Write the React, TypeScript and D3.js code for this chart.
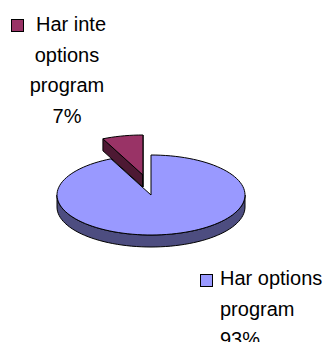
import React from "react";
import * as d3 from "d3";

const categories = ["Har options program", "Har inte options program"];
const values = [93, 7];
const labelLines = [
  ["Har options", "program", "93%"],
  ["Har inte", "options", "program", "7%"],
];
const topColors = ["#9999FF", "#993366"];
const sideColors = ["#4D4D80", "#4D1933"];
const explode = [0, 1];

const W = 331;
const H = 342;
const cx = 151;
const cy = 195;
const rx = 94;
const ry = 40;
const depth = 12;
const explodeX = 37;
const explodeY = 20.5;
const FONT = "'Liberation Sans', Arial, sans-serif";

function pt(a: number, ox: number, oy: number, dy = 0): [number, number] {
  return [cx + ox + rx * Math.sin(a), cy + oy - ry * Math.cos(a) + dy];
}

function arcPts(a0: number, a1: number, ox: number, oy: number, dy = 0) {
  const n = Math.max(2, Math.ceil((Math.abs(a1 - a0) / (Math.PI * 2)) * 120));
  return d3.range(n + 1).map((i) => pt(a0 + ((a1 - a0) * i) / n, ox, oy, dy));
}

const toPath = (ps: [number, number][]) =>
  "M" + ps.map((p) => p[0].toFixed(2) + "," + p[1].toFixed(2)).join("L") + "Z";

export default function App() {
  const pie = d3
    .pie<number>()
    .sort(null)
    .startAngle(0)
    .endAngle(Math.PI * 2)
    .value((d) => d);
  const arcs = pie(values);

  const shapes = arcs.map((a, i) => {
    const mid = (a.startAngle + a.endAngle) / 2;
    const ox = explode[i] * explodeX * Math.sin(mid);
    const oy = -explode[i] * explodeY * Math.cos(mid);
    const sides: string[] = [];
    const s0 = Math.max(a.startAngle, Math.PI / 2);
    const s1 = Math.min(a.endAngle, (Math.PI * 3) / 2);
    if (s1 > s0) {
      const top = arcPts(s0, s1, ox, oy);
      const bot = arcPts(s1, s0, ox, oy, depth);
      sides.push(toPath([...top, ...bot]));
    }
    const c: [number, number] = [cx + ox, cy + oy];
    const faceAt = (ang: number) => {
      const p = pt(ang, ox, oy);
      return toPath([c, p, [p[0], p[1] + depth], [c[0], c[1] + depth]]);
    };
    if (explode[i]) {
      sides.push(faceAt(a.startAngle));
      sides.push(faceAt(a.endAngle));
    }
    const top = toPath([c, ...arcPts(a.startAngle, a.endAngle, ox, oy)]);
    return { sides, top, i };
  });

  const fs = 20;
  const lh = 30.5;

  return (
    <svg
      width={W}
      height={H}
      style={{ position: "absolute", left: 0, top: 0, background: "#fff" }}
    >
      {shapes.map((s) => (
        <g key={categories[s.i]}>
          {s.sides.map((d, j) => (
            <path key={j} d={d} fill={sideColors[s.i]} stroke="#000" strokeWidth={1} strokeLinejoin="round" />
          ))}
          <path d={s.top} fill={topColors[s.i]} stroke="#000" strokeWidth={1} strokeLinejoin="round" />
        </g>
      ))}
      <rect x={11.5} y={19.5} width={12} height={12} fill={topColors[1]} stroke="#000" />
      {labelLines[1].map((t, j) => (
        <text
          key={t}
          x={j === 0 ? 36 : 67}
          y={31 + j * lh}
          textAnchor={j === 0 ? "start" : "middle"}
          fontFamily={FONT}
          fontSize={fs}
          fill="#000"
        >
          {t}
        </text>
      ))}
      <rect x={200.5} y={274.5} width={12} height={12} fill={topColors[0]} stroke="#000" />
      {labelLines[0].map((t, j) => (
        <text key={t} x={220} y={285 + j * lh} fontFamily={FONT} fontSize={fs} fill="#000">
          {t}
        </text>
      ))}
    </svg>
  );
}
